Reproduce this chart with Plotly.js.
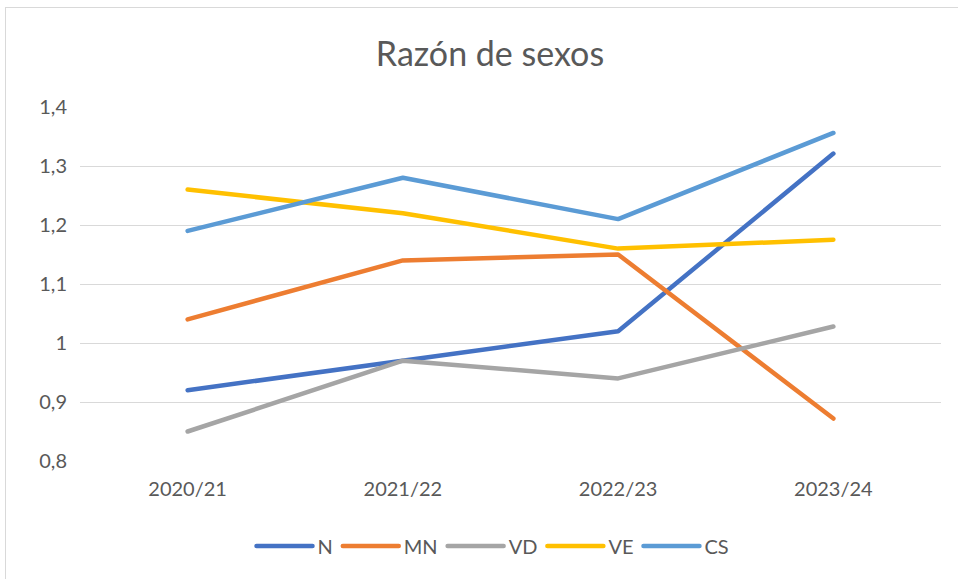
<!DOCTYPE html>
<html><head><meta charset="utf-8">
<script src="https://cdn.plot.ly/plotly-3.0.1.min.js"></script>
<style>html,body{margin:0;padding:0;background:#fff;}#wrap{position:relative;width:958px;height:579px;}#chart{width:958px;height:579px;}#frame{position:absolute;left:5px;top:7px;width:975px;height:600px;border:1px solid #d9d9d9;pointer-events:none;}
.js-line,.legendlines path{stroke-linecap:round !important;stroke-linejoin:round !important;}</style>
</head><body>
<div id="wrap"><div id="chart"></div><div id="frame"></div></div>
<script>
const categories = ["2020/21", "2021/22", "2022/23", "2023/24"];
const seriesNames = ["N", "MN", "VD", "VE", "CS"];
const N  = [0.92, 0.97, 1.02, 1.321];
const MN = [1.04, 1.14, 1.15, 0.872];
const VD = [0.85, 0.97, 0.94, 1.028];
const VE = [1.26, 1.22, 1.16, 1.175];
const CS = [1.19, 1.28, 1.21, 1.356];
const colors = ["#4472C4", "#ED7D31", "#A5A5A5", "#FFC000", "#5B9BD5"];
const yTickVals = [0.8, 0.9, 1.0, 1.1, 1.2, 1.3, 1.4];
const yTickText = ["0,8", "0,9", "1", "1,1", "1,2", "1,3", "1,4"];

const values = [N, MN, VD, VE, CS];
const traces = values.map((v, i) => ({
  type: "scatter", mode: "lines", x: categories, y: v, name: seriesNames[i],
  line: {color: colors[i], width: 4.5}
}));

const font = {family: "Lato, 'Open Sans', sans-serif", color: "#595959"};
const layout = {
  width: 958, height: 579,
  margin: {l: 80, r: 17, t: 107, b: 118},
  paper_bgcolor: "#fff", plot_bgcolor: "#fff",
  separators: ",.",
  showlegend: true,
  title: {text: "Razón de sexos", font: Object.assign({size: 34}, font),
    x: 490/958, xref: "container", xanchor: "center", y: 1 - 54/579, yref: "container", yanchor: "middle"},
  xaxis: {type: "category", range: [-0.5, 3.5], showgrid: false, zeroline: false, showline: false,
    ticks: "", tickfont: Object.assign({size: 20}, font), ticklabelstandoff: 14},
  yaxis: {range: [0.8, 1.4], tickvals: yTickVals, ticktext: yTickText, showgrid: true,
    gridcolor: "#d9d9d9", gridwidth: 1, zeroline: false, showline: false, ticks: "",
    tickfont: Object.assign({size: 20}, font), ticklabelstandoff: 12},
  legend: {orientation: "h", x: 493/958, xref: "container", xanchor: "center", y: 1 - 546/579, yref: "container", yanchor: "middle",
    font: Object.assign({size: 20}, font), itemwidth: 56, traceorder: "normal"},
};
Plotly.newPlot("chart", traces, layout, {displayModeBar: false, staticPlot: true});
</script>
</body></html>
